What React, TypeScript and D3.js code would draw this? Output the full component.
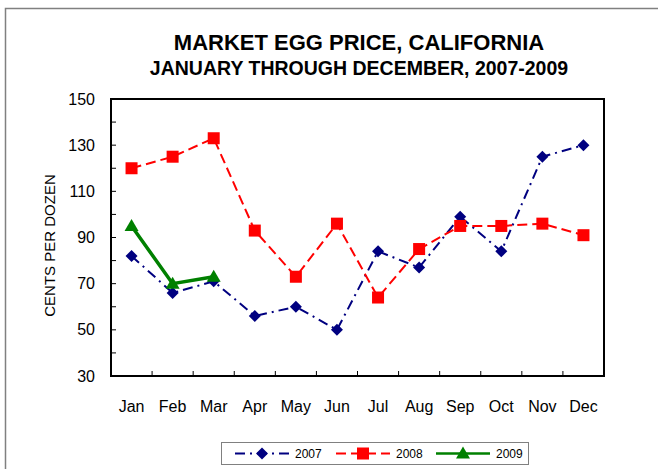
import React from 'react';
import * as d3 from 'd3';

const months = ['Jan', 'Feb', 'Mar', 'Apr', 'May', 'Jun', 'Jul', 'Aug', 'Sep', 'Oct', 'Nov', 'Dec'];
const price2007 = [82, 66, 71, 56, 60, 50, 84, 77, 99, 84, 125, 130];
const price2008 = [120, 125, 133, 93, 73, 96, 64, 85, 95, 95, 96, 91];
const price2009 = [95, 70, 73];
const yTicks = [30, 50, 70, 90, 110, 130, 150];

const W = 658, H = 469;
const plot = { left: 111, right: 604, top: 99, bottom: 376 };
const font = 'Liberation Sans, Arial, sans-serif';

const series = [
  { name: '2007', values: price2007, color: '#000080', width: 2, dash: '10,5,2,5', marker: 'diamond' },
  { name: '2008', values: price2008, color: '#FF0000', width: 2, dash: '10,5', marker: 'square' },
  { name: '2009', values: price2009, color: '#008000', width: 3.5, dash: null, marker: 'triangle' }
];

function Marker({ type, x, y, color }) {
  if (type === 'diamond') {
    const s = 6;
    return <path d={`M${x},${y - s}L${x + s},${y}L${x},${y + s}L${x - s},${y}Z`} fill={color} />;
  }
  if (type === 'square') {
    return <rect x={x - 6} y={y - 6} width={12} height={12} fill={color} />;
  }
  return <path d={`M${x},${y - 7}L${x + 7},${y + 5}L${x - 7},${y + 5}Z`} fill={color} />;
}

export default function App() {
  const x = d3.scaleBand().domain(months).range([plot.left, plot.right]);
  const y = d3.scaleLinear().domain([30, 150]).range([plot.bottom, plot.top]);
  const cx = (i) => x(months[i]) + x.bandwidth() / 2;
  const line = d3.line().x((d, i) => cx(i)).y(d => y(d));
  const minor = d3.range(30, 151, 10);

  const legendItems = [
    { s: series[0], x: 235 },
    { s: series[1], x: 336 },
    { s: series[2], x: 436 }
  ];

  return (
    <svg width={W} height={H} style={{ position: 'absolute', left: 0, top: 0 }}>
      <rect x={0} y={0} width={W} height={H} fill="#fff" />
      <path d={`M5.5,${H}V8.5H${W}`} fill="none" stroke="#808080" strokeWidth={1.5} />

      <text x={359} y={50} textAnchor="middle" fontFamily={font} fontWeight="bold" fontSize={22}>MARKET EGG PRICE, CALIFORNIA</text>
      <text x={359} y={75} textAnchor="middle" fontFamily={font} fontWeight="bold" fontSize={19.5}>JANUARY THROUGH DECEMBER, 2007-2009</text>

      {minor.map(v => (
        <line key={v} x1={plot.left} x2={plot.left + 5} y1={y(v)} y2={y(v)} stroke="#000" strokeWidth={1} />
      ))}
      {months.slice(1).map(m => (
        <line key={m} x1={x(m)} x2={x(m)} y1={plot.bottom} y2={plot.bottom - 5} stroke="#000" strokeWidth={1} />
      ))}
      <rect x={plot.left} y={plot.top} width={plot.right - plot.left} height={plot.bottom - plot.top} fill="none" stroke="#000" strokeWidth={2} />

      {yTicks.map(v => (
        <text key={v} x={95} y={y(v) + 5.5} textAnchor="end" fontFamily={font} fontSize={16}>{v}</text>
      ))}
      {months.map((m, i) => (
        <text key={m} x={cx(i)} y={412} textAnchor="middle" fontFamily={font} fontSize={16}>{m}</text>
      ))}
      <text transform={`translate(55,${(plot.top + plot.bottom) / 2 + 8}) rotate(-90)`} textAnchor="middle" fontFamily={font} fontSize={15}>CENTS PER DOZEN</text>

      {series.map(s => (
        <g key={s.name}>
          <path d={line(s.values)} fill="none" stroke={s.color} strokeWidth={s.width} strokeDasharray={s.dash || undefined} />
          {s.values.map((v, i) => (
            <Marker key={i} type={s.marker} x={cx(i)} y={y(v)} color={s.color} />
          ))}
        </g>
      ))}

      <rect x={221.5} y={442.5} width={307} height={22} fill="#fff" stroke="#808080" strokeWidth={1} />
      {legendItems.map(({ s, x: lx }) => (
        <g key={s.name}>
          <line x1={lx} x2={lx + 54} y1={453.5} y2={453.5} stroke={s.color} strokeWidth={s.width === 2 ? 2 : 2.5} strokeDasharray={s.dash || undefined} />
          <Marker type={s.marker} x={lx + 27} y={453.5} color={s.color} />
          <text x={lx + 60} y={458} fontFamily={font} fontSize={12}>{s.name}</text>
        </g>
      ))}
    </svg>
  );
}
